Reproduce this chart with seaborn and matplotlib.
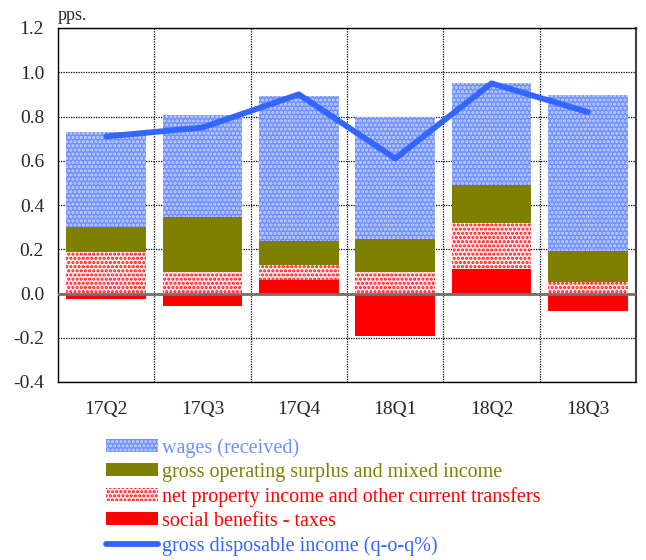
import matplotlib
matplotlib.use("Agg")
import matplotlib.pyplot as plt
import seaborn as sns
import numpy as np
from matplotlib.patches import Patch
from matplotlib.lines import Line2D

quarters = ["17Q2", "17Q3", "17Q4", "18Q1", "18Q2", "18Q3"]
social = [-0.025, -0.057, 0.062, -0.193, 0.111, -0.078]
net_property = [0.186, 0.095, 0.068, 0.099, 0.208, 0.054]
gross_surplus = [0.114, 0.249, 0.109, 0.149, 0.173, 0.137]
wages = [0.431, 0.463, 0.655, 0.550, 0.461, 0.706]
gdi = [0.71, 0.75, 0.90, 0.61, 0.95, 0.82]
yticks = [-0.4, -0.2, 0.0, 0.2, 0.4, 0.6, 0.8, 1.0, 1.2]

labels = ["wages (received)", "gross operating surplus and mixed income",
          "net property income and other current transfers",
          "social benefits - taxes", "gross disposable income (q-o-q%)"]

sns.set_style("white")
plt.rcParams['font.family'] = ['Liberation Serif', 'DejaVu Serif']
plt.rcParams['axes.unicode_minus'] = False
plt.rcParams['hatch.linewidth'] = 1.5

c_wage = "#7090ff"
c_olive = "#808000"
c_red = "#ff0000"
c_line = "#3366ff"

fig = plt.figure(figsize=(6.46, 5.6), dpi=100)
ax = fig.add_axes([58/646, 1-382/560, (636-58)/646, (382-28)/560])

soc = np.array(social)
pos_soc = np.clip(soc, 0, None)
b1 = pos_soc
b2 = b1 + np.array(net_property)
b3 = b2 + np.array(gross_surplus)

w = 0.83
sns.barplot(x=quarters, y=social, color=c_red, width=w, linewidth=0, ax=ax,
            saturation=1, order=quarters)
sns.barplot(x=quarters, y=net_property, bottom=b1, color="#ffecec", width=w,
            linewidth=0, edgecolor="#ff1010", hatch="....", ax=ax, saturation=1, order=quarters)
sns.barplot(x=quarters, y=gross_surplus, bottom=b2, color=c_olive, width=w,
            linewidth=0, ax=ax, saturation=1, order=quarters)
sns.barplot(x=quarters, y=wages, bottom=b3, color=c_wage, width=w,
            linewidth=0, edgecolor="#c8d4ff", hatch="....", ax=ax, saturation=1, order=quarters)

sns.lineplot(x=np.arange(len(quarters)), y=gdi, color=c_line, lw=4.2, ax=ax,
             solid_capstyle="round", zorder=5)

ax.set_xlim(-0.5, 5.5)
ax.set_ylim(-0.4, 1.2)
ax.set_yticks(yticks)
ax.set_yticklabels([f"{v:.1f}" for v in yticks], fontsize=14)
ax.set_xticks(range(len(quarters)))
ax.set_xticklabels(quarters, fontsize=14)
ax.tick_params(axis='both', length=0, pad=10)
ax.tick_params(axis='x', pad=14)
ax.set_xlabel("")
ax.set_ylabel("")

for v in yticks:
    ax.axhline(v, color="black", lw=0.9, ls=(0, (1, 1)), zorder=0.5)
for xb in np.arange(0.5, 5.5, 1):
    ax.axvline(xb, color="black", lw=0.9, ls=(0, (1, 1)), zorder=0.5)
ax.axhline(0, color="#707070", lw=2, zorder=4)

for s in ["top", "left", "bottom"]:
    ax.spines[s].set_linestyle((0, (1, 1)))
    ax.spines[s].set_color("black")
    ax.spines[s].set_linewidth(1)
ax.spines["right"].set_color("#404040")
ax.spines["right"].set_linewidth(1.5)

fig.text(58/646, 1-15/560, "pps.", fontsize=13, ha="left", va="center")

handles = [
    Patch(facecolor=c_wage, edgecolor="#c8d4ff", hatch="....", linewidth=0),
    Patch(facecolor=c_olive, linewidth=0),
    Patch(facecolor="#ffecec", edgecolor="#ff1010", hatch="....", linewidth=0),
    Patch(facecolor=c_red, linewidth=0),
    Line2D([0], [0], color=c_line, lw=4.2, solid_capstyle="round"),
]
leg = fig.legend(handles, labels, loc="upper left", bbox_to_anchor=(98/646, 1-430/560),
                 frameon=False, fontsize=14.5, handlelength=2.6, handleheight=0.6,
                 labelspacing=0.25, handletextpad=0.2, borderaxespad=0,
                 labelcolor=[c_wage, c_olive, c_red, c_red, c_line])

fig.savefig("out.png", dpi=100)
